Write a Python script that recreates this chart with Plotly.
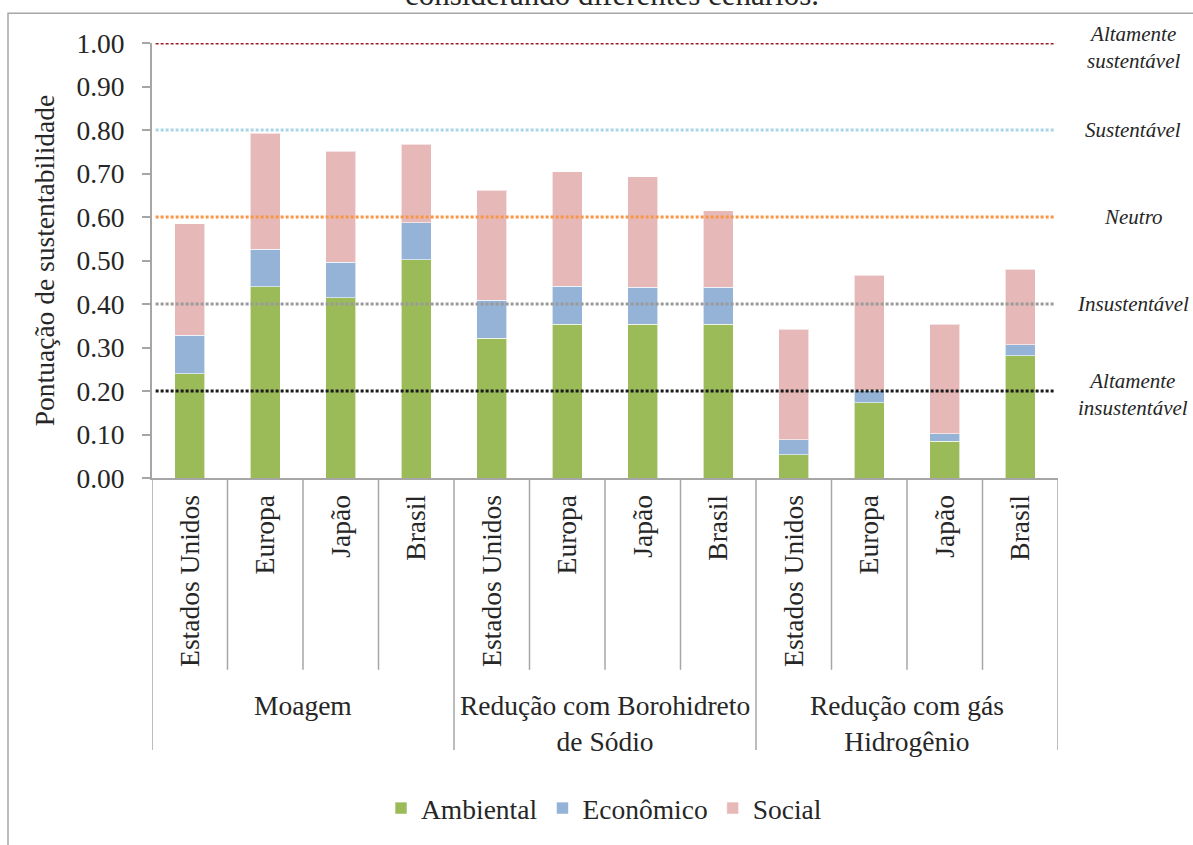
import plotly.graph_objects as go

# Scenario labels (country) and process groups
countries = ["Estados Unidos", "Europa", "Japão", "Brasil"] * 3
groups = ["Moagem", "Redução com Borohidreto<br>de Sódio", "Redução com gás<br>Hidrogênio"]

# Sustainability score components per scenario (stacked)
ambiental = [0.240, 0.440, 0.414, 0.502,
             0.321, 0.353, 0.353, 0.353,
             0.054, 0.173, 0.084, 0.281]
economico = [0.088, 0.086, 0.082, 0.085,
             0.088, 0.088, 0.086, 0.086,
             0.034, 0.029, 0.018, 0.025]
social = [0.256, 0.266, 0.255, 0.180,
          0.253, 0.263, 0.253, 0.175,
          0.254, 0.264, 0.251, 0.174]

# Classification thresholds
thresholds = [1.00, 0.80, 0.60, 0.40, 0.20]
threshold_names = ["Altamente<br>sustentável", "Sustentável", "Neutro",
                   "Insustentável", "Altamente<br>insustentável"]
threshold_colors = ["#9C1F2A", "#A9D6E6", "#F79646", "#9A9A9A", "#1A1A1A"]

yticks = [i / 10 for i in range(11)]

FONT = "Liberation Serif, Times New Roman, serif"
TXT = "#262626"
AXIS = "#A6A6A6"
FS = 27.5

W, H = 1193, 845
L, R, T, B = 152, 135, 43, 362
PH = H - T - B  # plot height in px


def py(px):
    """Convert a pixel row into paper y coordinate."""
    return (H - B - px) / PH


def pxx(px):
    """Convert a pixel column into paper x coordinate."""
    return (px - L) / (W - L - R)


xpos = list(range(len(countries)))

fig = go.Figure()
series = [("Ambiental", ambiental, "#9BBB59"),
          ("Econômico", economico, "#95B3D7"),
          ("Social", social, "#E6B9B8")]
for name, vals, col in series:
    fig.add_trace(go.Bar(
        x=xpos, y=vals, name=name,
        marker=dict(color=col, line=dict(color="rgba(255,255,255,0.6)", width=1)),
        width=0.4,
    ))

shapes = []
# dotted classification lines
for val, col in zip(thresholds, threshold_colors):
    shapes.append(dict(type="line", xref="paper", yref="y",
                       x0=0.004, x1=0.996, y0=val, y1=val,
                       line=dict(color=col, width=3, dash="3px,2px")))

# separators between categories in the label band
n = len(countries)
for i in range(n + 1):
    b = i - 0.5
    is_group = (i % 4 == 0)
    shapes.append(dict(type="line", xref="x", yref="paper",
                       x0=b, x1=b, y0=0, y1=py(758) if is_group else py(677),
                       line=dict(color=AXIS, width=1.5)))

# outer chart frame
shapes.append(dict(type="rect", xref="paper", yref="paper",
                   x0=pxx(8), x1=pxx(1210), y0=py(13), y1=py(860),
                   line=dict(color=AXIS, width=1.5), fillcolor="rgba(0,0,0,0)",
                   layer="below"))

annotations = []
for i, g in enumerate(groups):
    annotations.append(dict(x=i * 4 + 1.5, y=py(710), xref="x", yref="paper",
                            text=g, showarrow=False, yanchor="top", yshift=14,
                            xanchor="center",
                            font=dict(family=FONT, size=FS, color=TXT)))

shifts = [-4, 0, 0, 0, -3]
for val, name, s in zip(thresholds, threshold_names, shifts):
    annotations.append(dict(x=pxx(1133), y=val, xref="paper", yref="y",
                            text="<i>" + name + "</i>", showarrow=False,
                            xanchor="center", yanchor="middle", yshift=s,
                            font=dict(family=FONT, size=21, color=TXT)))

annotations.append(dict(x=pxx(612), y=py(-6), xref="paper", yref="paper",
                        text="considerando diferentes cenários.", showarrow=False,
                        xanchor="center", yanchor="middle",
                        font=dict(family=FONT, size=31, color=TXT)))

fig.update_layout(
    width=W, height=H,
    margin=dict(l=L, r=R, t=T, b=B),
    paper_bgcolor="white", plot_bgcolor="white",
    barmode="stack",
    font=dict(family=FONT, size=FS, color=TXT),
    shapes=shapes,
    annotations=annotations,
    showlegend=True,
    legend=dict(orientation="h", x=pxx(381), xanchor="left",
                y=py(817), yanchor="middle", traceorder="normal",
                font=dict(family=FONT, size=FS, color=TXT)),
    xaxis=dict(
        range=[-0.5, n - 0.5],
        tickmode="array", tickvals=xpos, ticktext=countries,
        tickangle=-90, ticks="", ticklabelstandoff=4,
        showline=True, linecolor=AXIS, linewidth=2,
        showgrid=False, zeroline=False,
        tickfont=dict(family=FONT, size=FS, color=TXT),
    ),
    yaxis=dict(
        range=[0, 1.0],
        tickmode="array", tickvals=yticks,
        ticktext=[f"{v:.2f}" for v in yticks],
        ticks="outside", ticklen=8, tickcolor=AXIS, tickwidth=1.5,
        ticklabelstandoff=12,
        showline=True, linecolor=AXIS, linewidth=2,
        showgrid=False, zeroline=False,
        tickfont=dict(family=FONT, size=FS, color=TXT),
        title=dict(text="Pontuação de sustentabilidade", standoff=14,
                   font=dict(family=FONT, size=FS, color=TXT)),
    ),
)

fig.write_html("out.html")
